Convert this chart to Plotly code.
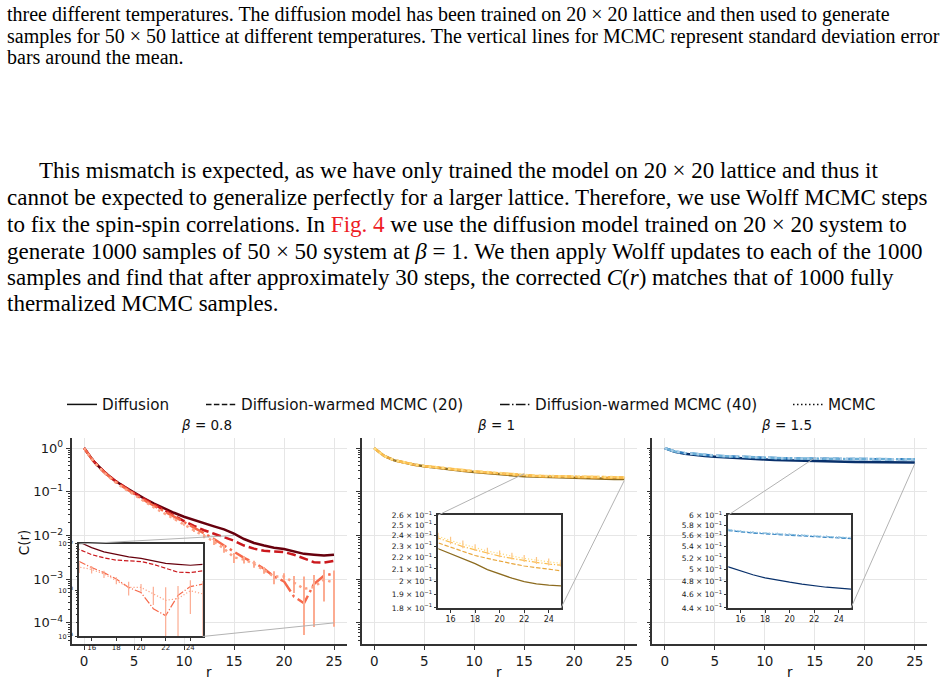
import math
import plotly.graph_objects as go

W, H = 945, 689

r = list(range(26))

# ---- beta = 0.8 ----
b08_diffusion = [1.0, 0.490, 0.288, 0.186, 0.132, 0.0955, 0.0708, 0.0537, 0.0417, 0.0331, 0.0269, 0.0224, 0.0191,
                 0.0162, 0.0138, 0.0110, 0.00832, 0.00676, 0.00589, 0.00525, 0.00490, 0.00427, 0.00380, 0.00363,
                 0.00347, 0.00363]
b08_warm20 = [1.0, 0.490, 0.288, 0.186, 0.132, 0.0933, 0.0692, 0.0513, 0.0389, 0.0282, 0.0214, 0.0166, 0.0132,
              0.0110, 0.00912, 0.00759, 0.00589, 0.00501, 0.00447, 0.00437, 0.00417, 0.00363, 0.00302, 0.00245,
              0.00240, 0.00263]
b08_warm40 = [1.0, 0.479, 0.282, 0.182, 0.126, 0.0891, 0.0646, 0.0479, 0.0363, 0.0275, 0.0204, 0.0151, 0.0112,
              0.00832, 0.00589, 0.00417, 0.00309, 0.00240, 0.00174, 0.00115, 0.000891, 0.000398, 0.000282,
              0.000776, 0.00120, 0.00135]
b08_mcmc = [1.0, 0.479, 0.275, 0.174, 0.120, 0.0851, 0.0603, 0.0437, 0.0324, 0.0240, 0.0178, 0.0132, 0.00977,
            0.00724, 0.00501, 0.00316, 0.00282, 0.00224, 0.00162, 0.00115, 0.00115, 0.000832, 0.000603, 0.000661,
            0.000977, 0.000832]
b08_mcmc_err = [0.0, 0.002, 0.0015, 0.0012, 0.001, 0.001, 0.0009, 0.0008, 0.0008, 0.0008, 0.001, 0.0011, 0.0011,
                0.0012, 0.001, 0.0008, 0.00053, 0.0004, 0.00028, 0.00038, 0.00022, 0.00035, 0.00055, 0.00058,
                0.00067, 0.00075]

# ---- beta = 1 ----
b10_diffusion = [1.0, 0.66, 0.525, 0.46, 0.415, 0.383, 0.357, 0.335, 0.315, 0.298, 0.283, 0.269, 0.257, 0.246,
                 0.236, 0.2275, 0.223, 0.219, 0.2145, 0.2095, 0.206, 0.2025, 0.1998, 0.198, 0.197, 0.1965]
b10_warm20 = [1.0, 0.66, 0.527, 0.462, 0.418, 0.387, 0.362, 0.341, 0.322, 0.306, 0.291, 0.278, 0.265, 0.253,
              0.242, 0.2328, 0.229, 0.2255, 0.2215, 0.219, 0.2165, 0.2145, 0.2125, 0.211, 0.2095, 0.2085]
b10_warm40 = [1.0, 0.661, 0.529, 0.465, 0.421, 0.39, 0.366, 0.345, 0.326, 0.31, 0.295, 0.282, 0.27, 0.258,
              0.247, 0.2373, 0.2335, 0.2295, 0.2265, 0.2235, 0.221, 0.219, 0.217, 0.2155, 0.2142, 0.2132]
b10_mcmc = [1.0, 0.661, 0.53, 0.466, 0.422, 0.391, 0.367, 0.346, 0.327, 0.311, 0.297, 0.284, 0.272, 0.26,
            0.249, 0.239, 0.235, 0.2315, 0.2285, 0.2255, 0.223, 0.221, 0.219, 0.2172, 0.216, 0.2148]
b10_mcmc_err = [0.0, 0.004, 0.004, 0.004, 0.004, 0.004, 0.004, 0.004, 0.004, 0.004, 0.004, 0.004, 0.004, 0.004,
                0.0035, 0.0035, 0.0035, 0.0035, 0.003, 0.003, 0.003, 0.003, 0.003, 0.003, 0.003, 0.003]

# ---- beta = 1.5 ----
b15_diffusion = [1.0, 0.82, 0.74, 0.69, 0.66, 0.635, 0.613, 0.595, 0.577, 0.562, 0.548, 0.537, 0.527, 0.519,
                 0.511, 0.5047, 0.4975, 0.4915, 0.4865, 0.4825, 0.4795, 0.4765, 0.4738, 0.4715, 0.47, 0.4686]
b15_warm20 = [1.0, 0.838, 0.768, 0.728, 0.698, 0.673, 0.653, 0.636, 0.622, 0.61, 0.6, 0.591, 0.583, 0.577,
              0.572, 0.5695, 0.567, 0.565, 0.5635, 0.562, 0.5608, 0.5595, 0.5582, 0.557, 0.5558, 0.5546]
b15_warm40 = [1.0, 0.84, 0.77, 0.73, 0.70, 0.675, 0.655, 0.638, 0.624, 0.612, 0.602, 0.593, 0.585, 0.579,
              0.574, 0.5705, 0.568, 0.566, 0.5645, 0.563, 0.5618, 0.5605, 0.5592, 0.558, 0.5568, 0.5556]
b15_mcmc = [1.0, 0.841, 0.771, 0.731, 0.701, 0.676, 0.656, 0.639, 0.625, 0.613, 0.603, 0.594, 0.586, 0.58,
            0.575, 0.5712, 0.5688, 0.5668, 0.5652, 0.5638, 0.5625, 0.5612, 0.56, 0.5588, 0.5576, 0.5565]
b15_mcmc_err = [0.0, 0.002, 0.002, 0.002, 0.002, 0.002, 0.002, 0.002, 0.002, 0.002, 0.002, 0.002, 0.002, 0.002,
                0.002, 0.002, 0.002, 0.002, 0.002, 0.002, 0.002, 0.002, 0.002, 0.002, 0.002, 0.002]

panel_titles = ["<i>β</i> = 0.8", "<i>β</i> = 1", "<i>β</i> = 1.5"]
series_names = ["Diffusion", "Diffusion-warmed MCMC (20)", "Diffusion-warmed MCMC (40)", "MCMC"]

main_yticks = [1, 0.1, 0.01, 0.001, 0.0001]
main_yticktext = ["10<sup>0</sup>", "10<sup>−1</sup>", "10<sup>−2</sup>", "10<sup>−3</sup>", "10<sup>−4</sup>"]
main_xticks = [0, 5, 10, 15, 20, 25]
inset_xticks = [16, 18, 20, 22, 24]
inset_ytick_sets = [
    ([0.0001, 0.001, 0.01], ["10<sup>−4</sup>", "10<sup>−3</sup>", "10<sup>−2</sup>"]),
    ([0.18, 0.19, 0.2, 0.21, 0.22, 0.23, 0.24, 0.25, 0.26],
     ["1.8 × 10<sup>−1</sup>", "1.9 × 10<sup>−1</sup>", "2 × 10<sup>−1</sup>", "2.1 × 10<sup>−1</sup>",
      "2.2 × 10<sup>−1</sup>", "2.3 × 10<sup>−1</sup>", "2.4 × 10<sup>−1</sup>", "2.5 × 10<sup>−1</sup>",
      "2.6 × 10<sup>−1</sup>"]),
    ([0.44, 0.46, 0.48, 0.5, 0.52, 0.54, 0.56, 0.58, 0.6],
     ["4.4 × 10<sup>−1</sup>", "4.6 × 10<sup>−1</sup>", "4.8 × 10<sup>−1</sup>", "5 × 10<sup>−1</sup>",
      "5.2 × 10<sup>−1</sup>", "5.4 × 10<sup>−1</sup>", "5.6 × 10<sup>−1</sup>", "5.8 × 10<sup>−1</sup>",
      "6 × 10<sup>−1</sup>"]),
]
zoom_x = [15, 25]
zoom_y = [(1e-4, 1e-2), (0.18, 0.26), (0.44, 0.6)]

para1 = [
    "three different temperatures. The diffusion model has been trained on 20 × 20 lattice and then used to generate",
    "samples for 50 × 50 lattice at different temperatures. The vertical lines for MCMC represent standard deviation error",
    "bars around the mean.",
]
para2 = [
    "This mismatch is expected, as we have only trained the model on 20 × 20 lattice and thus it",
    "cannot be expected to generalize perfectly for a larger lattice. Therefore, we use Wolff MCMC steps",
    "to fix the spin-spin correlations. In <span style='color:#ee1c24'>Fig. 4</span> we use the diffusion model trained on 20 × 20 system to",
    "generate 1000 samples of 50 × 50 system at <i>β</i> = 1. We then apply Wolff updates to each of the 1000",
    "samples and find that after approximately 30 steps, the corrected <i>C</i>(<i>r</i>) matches that of 1000 fully",
    "thermalized MCMC samples.",
]

data_sets = [
    (b08_diffusion, b08_warm20, b08_warm40, b08_mcmc, b08_mcmc_err),
    (b10_diffusion, b10_warm20, b10_warm40, b10_mcmc, b10_mcmc_err),
    (b15_diffusion, b15_warm20, b15_warm40, b15_mcmc, b15_mcmc_err),
]
palettes = [
    ["#67000d", "#cb181d", "#f6694b", "#fca285", "#fcac92"],
    ["#8c6b1f", "#e8a63c", "#fbbd4e", "#fedc82", "#fdc586"],
    ["#08306b", "#2f7dbf", "#6aaed6", "#a9cce6", "#a9cce6"],
]

# ---------------- layout geometry (pixels) ----------------
main_dom_x = [(71.5, 346.5), (361.7, 636.7), (652.3, 927.3)]
main_dom_y = (439.3, 648.3)            # top, bottom
inset_dom_x = [(79.3, 202.7), (438.3, 561.0), (728.3, 851.0)]
inset_dom_y = [(546.7, 640.7), (517.3, 611.7), (517.3, 611.7)]
main_xrange = [-1.25, 26.25]
main_yrange = [-4.482, 0.225]


def pxx(p):
    return p / W


def pxy(p):
    return 1 - p / H


dash_main = [None, "9px,4px", "16px,4px,2.5px,4px", "2.5px,4px"]
dash_inset = [None, "4.4px,1.9px", "7.7px,1.9px,1.2px,1.9px", "1.2px,2px"]
dash_leg = [None, "5.5px,2.4px", "9.6px,2.4px,1.5px,2.4px", "1.5px,2.5px"]

fig = go.Figure()

for i in range(3):
    mx = "x" if i == 0 else f"x{i + 1}"
    my = "y" if i == 0 else f"y{i + 1}"
    ix, iy = f"x{i + 4}", f"y{i + 4}"
    series = data_sets[i]
    cols = palettes[i]
    for (xa, ya, lw, dashes, errw) in [(mx, my, 2.5, dash_main, 2.0), (ix, iy, 1.2, dash_inset, 1.2)]:
        for k in range(4):
            kw = dict(x=r, y=series[k], xaxis=xa, yaxis=ya, mode="lines", showlegend=False,
                      line=dict(color=cols[k], width=lw, dash=dashes[k] if dashes[k] else "solid"),
                      hoverinfo="skip")
            if k == 3:
                kw["error_y"] = dict(type="data", array=series[4], visible=True, color=cols[4],
                                     thickness=errw, width=0)
            fig.add_trace(go.Scatter(**kw))

# legend entries (black samples, one legend per entry for exact placement)
legend_names = ["legend", "legend2", "legend3", "legend4"]
legend_x_px = [62, 201, 495, 788]
for k in range(4):
    fig.add_trace(go.Scatter(x=[None], y=[None], mode="lines", name=series_names[k],
                             line=dict(color="#111", width=1.5, dash=dash_leg[k] if dash_leg[k] else "solid"),
                             legend=legend_names[k], showlegend=True))

layout = dict(
    width=W, height=H, margin=dict(l=0, r=0, t=0, b=0),
    paper_bgcolor="white", plot_bgcolor="white",
    font=dict(family="DejaVu Sans", color="#1a1a1a", size=13),
)
for k in range(4):
    layout[legend_names[k]] = dict(x=pxx(legend_x_px[k]), xanchor="left", y=pxy(405), yanchor="middle",
                                   orientation="h", bgcolor="rgba(0,0,0,0)", borderwidth=0,
                                   font=dict(family="DejaVu Sans", size=15.2, color="#111"))

minor_main = [m * 10 ** e for e in range(-5, 1) for m in range(2, 10)]
minor_inset1 = [m * 10 ** e for e in range(-4, -2) for m in range(2, 10)]

axis_col = "#333333"
for i in range(3):
    xn = "xaxis" if i == 0 else f"xaxis{i + 1}"
    yn = "yaxis" if i == 0 else f"yaxis{i + 1}"
    xref = "x" if i == 0 else f"x{i + 1}"
    yref = "y" if i == 0 else f"y{i + 1}"
    layout[xn] = dict(domain=[pxx(main_dom_x[i][0]), pxx(main_dom_x[i][1])], range=main_xrange, anchor=yref,
                      tickmode="array", tickvals=main_xticks, ticks="outside", ticklen=4, tickwidth=1.2,
                      tickcolor=axis_col, showline=True, linecolor=axis_col, linewidth=1.5, showgrid=True,
                      gridcolor="#e6e6e6", gridwidth=1, zeroline=False, tickfont=dict(size=13.5))
    layout[yn] = dict(domain=[pxy(main_dom_y[1]), pxy(main_dom_y[0])], type="log", range=main_yrange,
                      anchor=xref, tickmode="array", tickvals=main_yticks, ticktext=main_yticktext,
                      showticklabels=(i == 0), ticks="outside", ticklen=4, tickwidth=1.2, tickcolor=axis_col,
                      showline=True, linecolor=axis_col, linewidth=1.5, showgrid=True, gridcolor="#e6e6e6",
                      gridwidth=1, zeroline=False, tickfont=dict(size=13),
                      minor=dict(tickmode="array", tickvals=minor_main, ticks="outside", ticklen=2,
                                 tickwidth=0.8, tickcolor=axis_col, showgrid=False))
    # inset axes
    ixn, iyn = f"xaxis{i + 4}", f"yaxis{i + 4}"
    tv, tt = inset_ytick_sets[i]
    small = 6.5 if i == 0 else 7.5
    layout[ixn] = dict(domain=[pxx(inset_dom_x[i][0]), pxx(inset_dom_x[i][1])], range=zoom_x, anchor=f"y{i + 4}",
                       tickmode="array", tickvals=inset_xticks, ticks="outside", ticklen=3, tickwidth=1,
                       tickcolor=axis_col, showline=True, mirror=True, linecolor=axis_col, linewidth=1.5,
                       showgrid=False, zeroline=False, tickfont=dict(size=small + 0.5))
    yd = dict(domain=[pxy(inset_dom_y[i][1]), pxy(inset_dom_y[i][0])], type="log",
              range=[math.log10(zoom_y[i][0]), math.log10(zoom_y[i][1])], anchor=f"x{i + 4}",
              tickmode="array", tickvals=tv, ticktext=tt, ticks="outside", ticklen=3, tickwidth=1,
              tickcolor=axis_col, showline=True, mirror=True, linecolor=axis_col, linewidth=1.5,
              showgrid=False, zeroline=False, tickfont=dict(size=small))
    if i == 0:
        yd["minor"] = dict(tickmode="array", tickvals=minor_inset1, ticks="outside", ticklen=2,
                           tickwidth=0.8, tickcolor=axis_col, showgrid=False)
    layout[iyn] = yd

shapes = []
annotations = []


def main_px(i, xv, yv):
    x0, x1 = main_dom_x[i]
    top, bot = main_dom_y
    px = x0 + (xv - main_xrange[0]) / (main_xrange[1] - main_xrange[0]) * (x1 - x0)
    py = bot - (math.log10(yv) - main_yrange[0]) / (main_yrange[1] - main_yrange[0]) * (bot - top)
    return px, py


for i in range(3):
    xref = "x" if i == 0 else f"x{i + 1}"
    yref = "y" if i == 0 else f"y{i + 1}"
    lo, hi = zoom_y[i]
    shapes.append(dict(type="rect", xref=xref, yref=yref, x0=zoom_x[0], x1=zoom_x[1],
                       y0=math.log10(lo), y1=math.log10(hi), line=dict(color="#b3b3b3", width=1.2),
                       layer="above"))
    # connectors: rect top-left -> inset top-left ; rect bottom-right -> inset bottom-right
    ax, ay = main_px(i, zoom_x[0], hi)
    shapes.append(dict(type="line", xref="paper", yref="paper", x0=pxx(ax), y0=pxy(ay),
                       x1=pxx(inset_dom_x[i][0]), y1=pxy(inset_dom_y[i][0]),
                       line=dict(color="#b3b3b3", width=1), layer="above"))
    bx, by = main_px(i, zoom_x[1], lo)
    shapes.append(dict(type="line", xref="paper", yref="paper", x0=pxx(bx), y0=pxy(by),
                       x1=pxx(inset_dom_x[i][1]), y1=pxy(inset_dom_y[i][1]),
                       line=dict(color="#b3b3b3", width=1), layer="above"))
    cx = (main_dom_x[i][0] + main_dom_x[i][1]) / 2
    annotations.append(dict(text=panel_titles[i], x=pxx(cx - 3), y=pxy(426), xref="paper", yref="paper",
                            showarrow=False, xanchor="center", yanchor="middle",
                            font=dict(size=13.5, color="#111")))
    annotations.append(dict(text="r", x=pxx(cx), y=pxy(677), xref="paper", yref="paper",
                            showarrow=False, xanchor="center", yanchor="middle",
                            font=dict(size=13.5, color="#111")))

annotations.append(dict(text="C(r)", x=pxx(24), y=pxy(545), xref="paper", yref="paper", textangle=-90,
                        showarrow=False, xanchor="center", yanchor="middle", font=dict(size=13.5, color="#111")))

p1_y = [9, 31, 52]
for j, line in enumerate(para1):
    annotations.append(dict(text=line, x=pxx(5), y=pxy(p1_y[j]), xref="paper", yref="paper", showarrow=False,
                            xanchor="left", yanchor="middle",
                            font=dict(family="Liberation Serif", size=20, color="#000")))
p2_y = [167, 195, 222, 249, 276, 302]
for j, line in enumerate(para2):
    annotations.append(dict(text=line, x=pxx(37 if j == 0 else 5), y=pxy(p2_y[j]), xref="paper", yref="paper",
                            showarrow=False, xanchor="left", yanchor="middle",
                            font=dict(family="Liberation Serif", size=23, color="#000")))

layout["shapes"] = shapes
layout["annotations"] = annotations
fig.update_layout(**layout)
fig.write_html("out.html")
